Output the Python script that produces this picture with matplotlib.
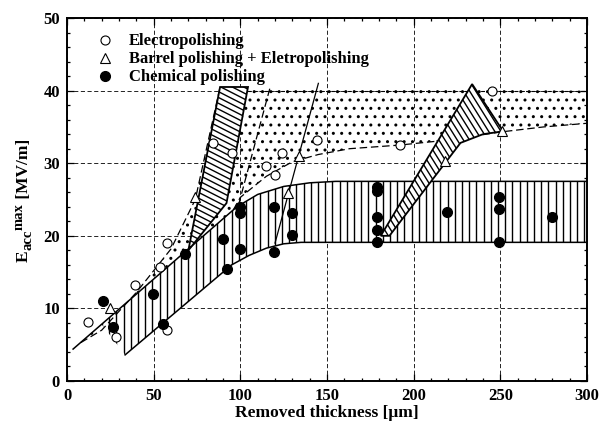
import numpy as np
import matplotlib
matplotlib.use("Agg")
import matplotlib.pyplot as plt
from matplotlib.patches import Polygon
from matplotlib.ticker import MultipleLocator
from matplotlib.transforms import IdentityTransform

plt.rcParams['font.family'] = ['Liberation Serif', 'DejaVu Serif']
plt.rcParams['font.weight'] = 'bold'

# ---------------- data ----------------
ep_x = [12, 28.5, 39, 53.5, 57.7, 57.7, 84, 95, 115, 120, 124, 144, 192, 245]
ep_y = [8.1, 6.0, 13.2, 15.7, 19.0, 7.0, 32.8, 31.4, 29.6, 28.4, 31.4, 33.2, 32.5, 40.0]

bp_x = [25, 74, 127.5, 134, 218, 251]
bp_y = [10.1, 25.4, 25.9, 31.0, 30.3, 34.4]

cp_x = [20.8, 26.5, 49.6, 55.4, 68, 90, 92.3, 99.8, 99.8, 99.8, 119.4, 119.4,
        129.8, 129.8, 179, 179, 179, 179, 179, 219, 249, 249, 249, 280]
cp_y = [11.0, 7.4, 12.0, 7.9, 17.5, 19.5, 15.4, 24.0, 23.1, 18.2, 24.0, 17.8,
        23.1, 20.1, 26.7, 26.2, 22.6, 20.8, 19.1, 23.3, 25.3, 23.7, 19.1, 22.6]

legend_labels = ['Electropolishing', 'Barrel polishing + Eletropolishing',
                 'Chemical polishing']

# chemical polishing band (vertical hatch)
cpb_up_x = [3.5, 98, 110, 125, 140, 155, 170, 300]
cpb_up_y = [4.4, 24.0, 25.7, 26.8, 27.3, 27.5, 27.5, 27.5]
cpb_lo_x = [33.5, 95, 105, 115, 125, 135, 300]
cpb_lo_y = [3.6, 16.0, 17.3, 18.3, 18.9, 19.1, 19.1]
cpb_hatch_start = 20

# electropolishing region (stipple)
epb_left_x = [8, 20, 40, 60, 74, 88.3]
epb_left_y = [5.3, 7.0, 12.2, 18.2, 25.0, 40.5]
epb_top_x = [88.3, 300]
epb_top_y = [40.0, 40.0]
epb_lo_x = [96, 100, 115, 130, 145, 163, 192, 220, 250, 275, 300]
epb_lo_y = [23.6, 25.3, 28.2, 30.2, 31.2, 32.0, 32.5, 33.2, 34.3, 35.0, 35.5]
ep_inner_x = [99, 117]
ep_inner_y = [24.3, 40.3]

# diagonal hatched wedges
w1_x = [70, 88.3, 104.4, 92]
w1_y = [18.0, 40.5, 40.5, 24.5]
w2_x = [181, 233.7, 251.6, 240, 227, 186]
w2_y = [20.0, 40.9, 34.4, 34.0, 32.8, 20.0]

bp_line_x = [120, 145]
bp_line_y = [19.0, 41.0]

# ---------------- figure ----------------
fig = plt.figure(figsize=(6.0, 4.26), dpi=100)
ax = fig.add_axes([0.1117, 0.1056, 0.8667, 0.8521])
ax.set_xlim(0, 300)
ax.set_ylim(0, 50)


def hatch_patch(xs, ys, angle, spacing, lw, z, fill='white'):
    verts = np.column_stack([xs, ys])
    poly = Polygon(verts, closed=True, fc=fill, ec='none', zorder=z)
    ax.add_patch(poly)
    disp = ax.transData.transform(verts)
    c = disp.mean(axis=0)
    R = np.max(np.hypot(*(disp - c).T)) + spacing
    th = np.deg2rad(angle)
    d = np.array([np.cos(th), np.sin(th)])
    n = np.array([-d[1], d[0]])
    inv = ax.transData.inverted()
    for off in np.arange(-R, R, spacing):
        p = inv.transform(np.array([c + n * off - d * R, c + n * off + d * R]))
        ln, = ax.plot(p[:, 0], p[:, 1], color='k', lw=lw, zorder=z + 0.1,
                      solid_capstyle='butt')
        ln.set_clip_path(poly)
    return poly


# stipple region
lo_x_band = np.linspace(epb_left_x[0], epb_lo_x[0], 20)
lo_y_band = np.interp(lo_x_band, cpb_up_x, cpb_up_y)
reg_x = list(epb_left_x) + [epb_top_x[1]] + list(epb_lo_x[::-1]) + list(lo_x_band[::-1])
reg_y = list(epb_left_y) + [epb_top_y[1]] + list(epb_lo_y[::-1]) + list(lo_y_band[::-1])
stip = Polygon(np.column_stack([reg_x, reg_y]), closed=True, fc='none',
               ec='k', lw=0, hatch='..', zorder=1)
ax.add_patch(stip)

# chemical band
up_x = np.array(cpb_up_x, dtype=float)
up_y = np.array(cpb_up_y, dtype=float)
keep = up_x > cpb_hatch_start
bx = [cpb_hatch_start] + list(up_x[keep]) + list(cpb_lo_x[::-1])
by = [np.interp(cpb_hatch_start, cpb_up_x, cpb_up_y)] + list(up_y[keep]) + list(cpb_lo_y[::-1])
hatch_patch(bx, by, 90, 7.2, 1.0, 2)
ax.plot(cpb_up_x, cpb_up_y, color='k', lw=1.1, zorder=2.5)
ax.plot(cpb_lo_x, cpb_lo_y, color='k', lw=1.1, zorder=2.5)

# dashed boundaries of stipple region
dash = (0, (6, 3))
ax.plot(epb_left_x, epb_left_y, color='k', lw=0.9, ls=dash, zorder=2.5)
ax.plot(epb_lo_x, epb_lo_y, color='k', lw=0.9, ls=dash, zorder=2.5)
ax.plot(ep_inner_x, ep_inner_y, color='k', lw=0.9, ls=dash, zorder=2.5)
ax.plot(epb_top_x, epb_top_y, color='k', lw=0.8, ls=(0, (3, 2)), zorder=2.5)

# wedges
hatch_patch(w1_x, w1_y, -27, 5.2, 1.0, 3)
hatch_patch(w2_x, w2_y, -58, 5.2, 1.0, 3)
for xs, ys in ((w1_x, w1_y), (w2_x, w2_y)):
    ax.add_patch(Polygon(np.column_stack([xs, ys]), closed=True, fc='none',
                         ec='k', lw=1.3, zorder=3.5))

ax.plot(bp_line_x, bp_line_y, color='k', lw=0.9, zorder=3.6)

# markers
ax.plot(ep_x, ep_y, 'o', ms=6.5, mfc='white', mec='k', mew=0.8, zorder=5,
        label=legend_labels[0])
ax.plot(bp_x, bp_y, '^', ms=6.5, mfc='white', mec='k', mew=0.8, zorder=5,
        label=legend_labels[1])
ax.plot(cp_x, cp_y, 'o', ms=7, mfc='k', mec='k', zorder=5,
        label=legend_labels[2])

# axes styling
ax.xaxis.set_major_locator(MultipleLocator(50))
ax.xaxis.set_minor_locator(MultipleLocator(10))
ax.yaxis.set_major_locator(MultipleLocator(10))
ax.yaxis.set_minor_locator(MultipleLocator(2))
ax.tick_params(which='both', direction='in', top=True, right=True, width=0.9)
ax.tick_params(which='major', length=5, labelsize=12, pad=5)
ax.tick_params(which='minor', length=2.5)
for lab in ax.get_xticklabels() + ax.get_yticklabels():
    lab.set_fontweight('bold')
for s in ax.spines.values():
    s.set_linewidth(1.4)
ax.grid(True, which='major', color='k', lw=0.6, ls=(0, (5, 3)))
ax.set_axisbelow(True)

ax.set_xlabel('Removed thickness [\u03bcm]', fontsize=12.5, fontweight='bold', labelpad=1)

# y label built from pieces: E, subscript "acc", superscript "max", unit
renderer = fig.canvas.get_renderer()
pieces = [('E', 0.0, 12.5), ('acc', 4.0, 10.5), ('max', -5.0, 10.5), (' [MV/m]', 0.0, 12.5)]
texts = []
total = 0.0
for s, shift, fs in pieces:
    t = fig.text(0, 0, s, rotation=90, rotation_mode='anchor', ha='left',
                 va='baseline', fontsize=fs, fontweight='bold',
                 transform=IdentityTransform())
    w = t.get_window_extent(renderer).height
    texts.append((t, shift, w))
    total += w
base_x = 28.0
y = 226.0 - total / 2
for t, shift, w in texts:
    t.set_position((base_x + shift, y))
    y += w

leg = ax.legend(loc='upper left', bbox_to_anchor=(0.035, 0.985), frameon=False,
                handlelength=1.2, handletextpad=0.8, labelspacing=0.12,
                prop={'size': 12, 'weight': 'bold'}, borderaxespad=0.2)
leg.set_zorder(10)

fig.savefig('out.png', dpi=100)
